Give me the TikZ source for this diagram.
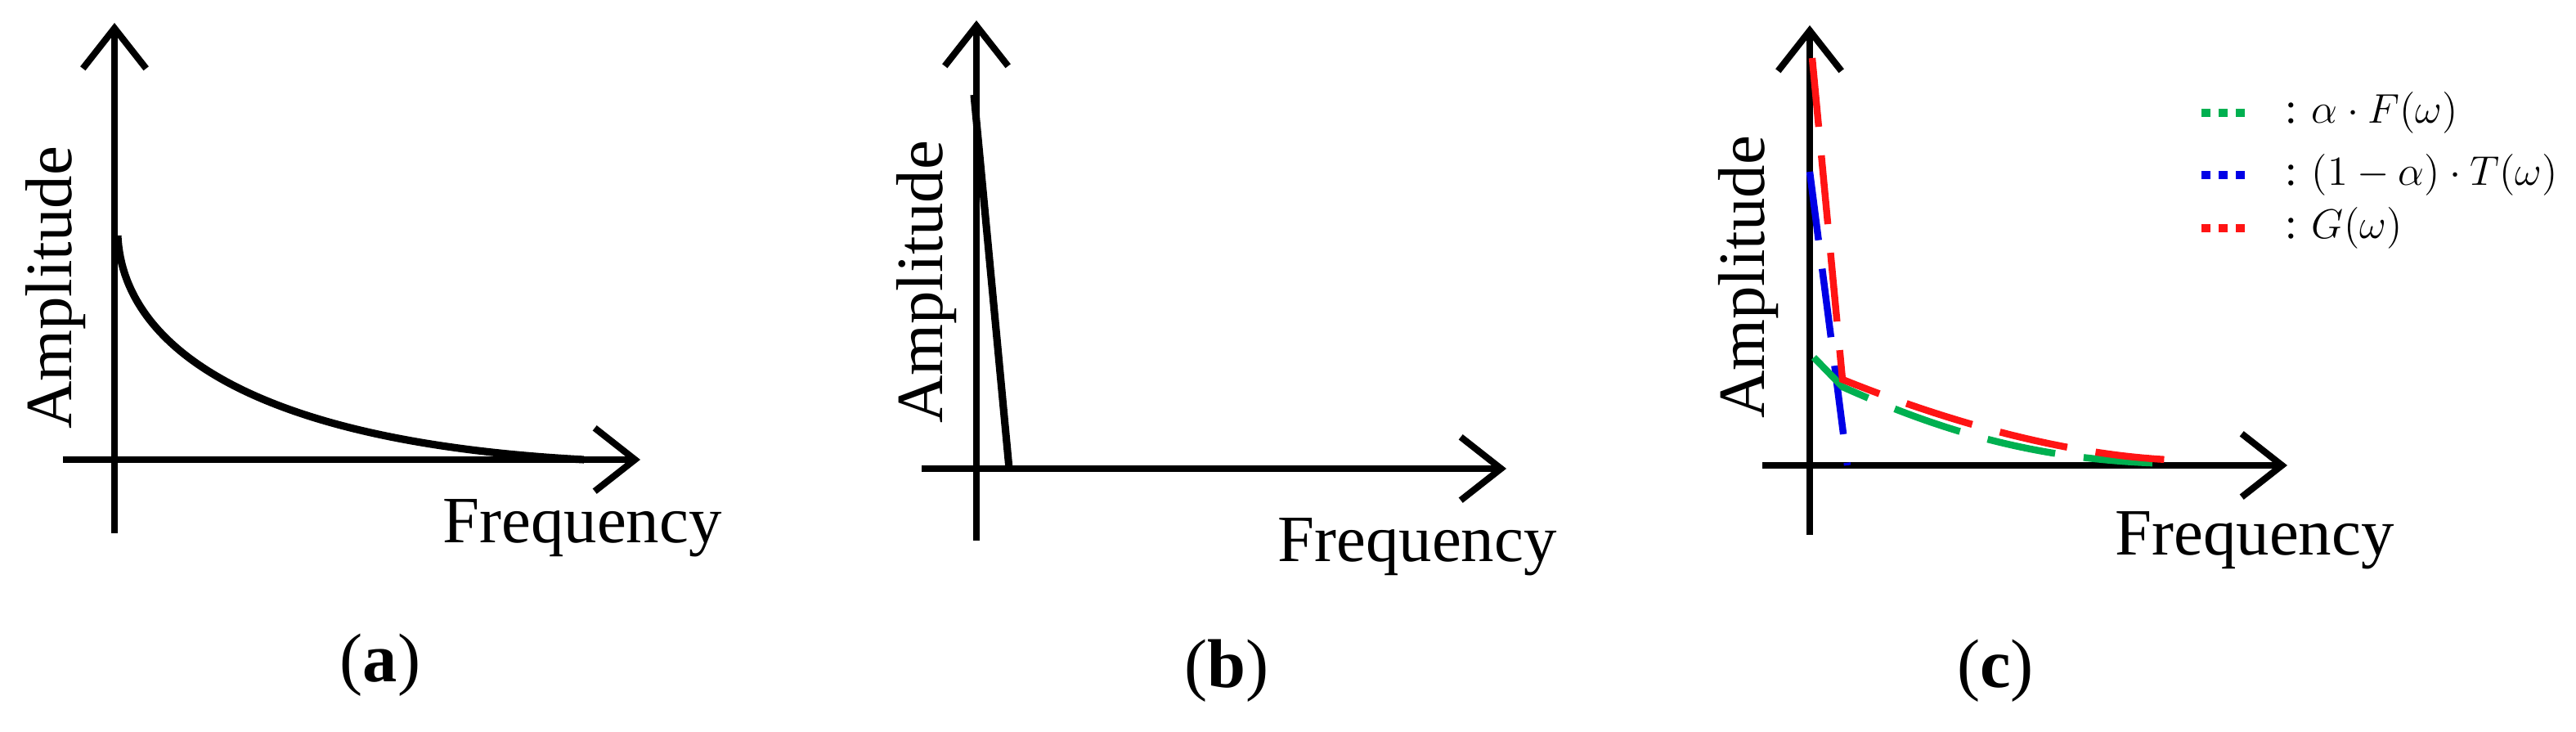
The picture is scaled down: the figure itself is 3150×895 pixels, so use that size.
\documentclass[tikz,border=0pt]{standalone}
\usepackage{fontspec}
\setmainfont{Liberation Serif}
\usetikzlibrary{arrows.meta}
\begin{document}
\begin{tikzpicture}[x=0.01cm,y=-0.01cm,
  axis/.style={line width=2.3pt,-{Straight Barb[length=14pt,width=22pt,line width=2.3pt]}},
  curve/.style={line width=2.6pt},
  lbl/.style={font=\fontsize{23}{26}\selectfont,inner sep=0pt},
  caplbl/.style={font=\fontsize{24}{28}\selectfont,inner sep=0pt},
  leg/.style={font=\fontsize{15}{18}\selectfont,inner sep=0pt,anchor=west},
  dsh/.style={line width=2.4pt,dash pattern=on 24pt off 10pt},
  dotl/.style={line width=2.6pt,dash pattern=on 3pt off 3pt}]
\useasboundingbox (0,0) rectangle (3150,895);
\definecolor{cgreen}{RGB}{0,176,80}
\definecolor{cblue}{RGB}{0,0,230}
\definecolor{cred}{RGB}{255,20,20}
% panel a
\coordinate (ay0) at (140,652); \coordinate (ay1) at (140,28);
\coordinate (ax0) at (77,562); \coordinate (ax1) at (783,562);
\draw[axis] (ay0) -- (ay1);
\draw[axis] (ax0) -- (ax1);
\draw[curve] (144,288) .. controls (150,420) and (300,540) .. (714,562);
\node[lbl,rotate=90] (aamp) at (68,352) {Amplitude};
\node[lbl,anchor=base] (afreq) at (712,664) {Frequency};
\node[caplbl] (acap) at (465,813) {(\textbf{a})};
% panel b
\coordinate (by0) at (1194,661); \coordinate (by1) at (1194,25);
\coordinate (bx0) at (1127,573); \coordinate (bx1) at (1842,573);
\draw[axis] (by0) -- (by1);
\draw[axis] (bx0) -- (bx1);
\draw[curve] (1191,116) -- (1234,573);
\node[lbl,rotate=90] (bamp) at (1133,345) {Amplitude};
\node[lbl,anchor=base] (bfreq) at (1733,687) {Frequency};
\node[caplbl] (bcap) at (1500,820) {(\textbf{b})};
% panel c
\coordinate (cy0) at (2213,654); \coordinate (cy1) at (2213,31);
\coordinate (cx0) at (2155,569); \coordinate (cx1) at (2797,569);
\draw[axis] (cy0) -- (cy1);
\draw[axis] (cx0) -- (cx1);
\draw[dsh,cblue] (2213,210) -- (2259,569);
\draw[dsh,cgreen] (2218,437) -- (2253,473) .. controls (2380,530) and (2500,565) .. (2665,567);
\draw[dsh,cred] (2216,71) -- (2253,464) .. controls (2380,515) and (2520,555) .. (2650,562);
\node[lbl,rotate=90] (camp) at (2138,339) {Amplitude};
\node[lbl,anchor=base] (cfreq) at (2757,679) {Frequency};
\node[caplbl] (ccap) at (2440,820) {(\textbf{c})};
\draw[dotl,cgreen] (2692,138) -- (2745,138);
\draw[dotl,cblue] (2692,214) -- (2745,214);
\draw[dotl,cred] (2692,279) -- (2745,279);
\node[leg] (l1) at (2794,138) {: $\alpha\cdot F(\omega)$};
\node[leg] (l2) at (2794,214) {: $(1-\alpha)\cdot T(\omega)$};
\node[leg] (l3) at (2794,279) {: $G(\omega)$};
\end{tikzpicture}
\end{document}
